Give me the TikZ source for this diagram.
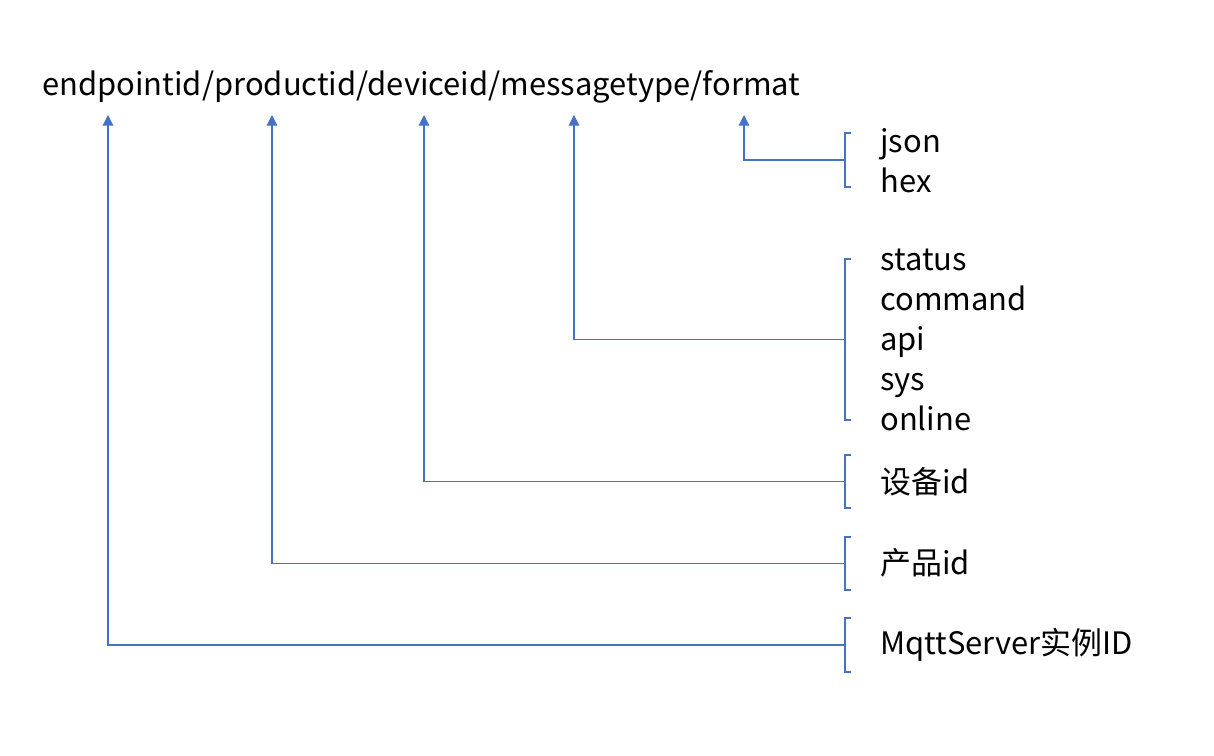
\documentclass[tikz,border=0pt]{standalone}
\usepackage{fontspec}
\setmainfont{Noto Sans CJK SC}
\usepackage{tikz}
\usetikzlibrary{calc, positioning, arrows.meta}
\usepackage{xcolor}
\definecolor{linkblue}{RGB}{68, 114, 196}
\tikzset{
  lbl/.style={anchor=west, inner sep=0pt, align=left, font=\fontsize{17.6}{22.8}\selectfont},
  arr/.style={-{Triangle[length=6pt, width=6pt]}, linkblue, line width=0.6pt},
  brk/.style={linkblue, line width=0.6pt}
}

\begin{document}
\begin{tikzpicture}[x=0.02cm, y=-0.02cm]
  \useasboundingbox (0,0) rectangle (1214,756);
  \node[lbl, anchor=base west] (topic) at (42,96) {endpointid/productid/deviceid/messagetype/format};

  % arrow tips under the topic
  \coordinate (tEnd) at (108,115);
  \coordinate (tProd) at (272,115);
  \coordinate (tDev) at (424,115);
  \coordinate (tMsg) at (574,115);
  \coordinate (tFmt) at (744,115);

  % value lists
  \node[lbl] (fmt) at (880,161) {json\\hex};
  \node[lbl] (msg) at (880,340) {status\\command\\api\\sys\\online};
  \node[lbl] (dev) at (880,482) {设备id};
  \node[lbl] (prod) at (880,563) {产品id};
  \node[lbl] (endp) at (880,645) {MqttServer实例ID};

  % brackets
  \foreach \name/\top/\bot in {Fmt/133/187, Msg/259/420, Dev/455/508, Prod/537/590, End/618/672}{
    \draw[brk] (851,\top) -- (845,\top) -- (845,\bot) -- (851,\bot);
    \coordinate (b\name) at (845,{(\top+\bot)/2});
  }

  \draw[arr] (bFmt) -| (tFmt);
  \draw[arr] (bMsg) -| (tMsg);
  \draw[arr] (bDev) -| (tDev);
  \draw[arr] (bProd) -| (tProd);
  \draw[arr] (bEnd) -| (tEnd);
\end{tikzpicture}
\end{document}
